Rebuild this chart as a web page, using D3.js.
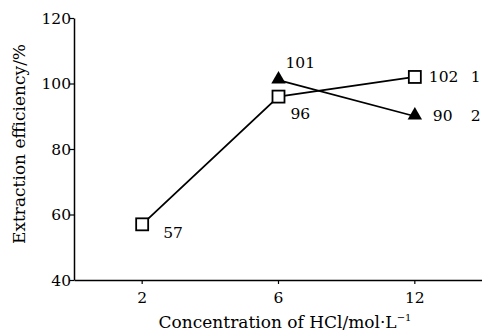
<!DOCTYPE html>
<html>
<head>
<meta charset="utf-8">
<script src="https://cdn.jsdelivr.net/npm/d3@7"></script>
<style>
    body { margin: 0; background: #fff; }
    svg text { font-family: "DejaVu Serif", "Liberation Serif", serif; fill: #000; }
</style>
</head>
<body>
<div id="chart"></div>
<script>
var categories = ["2", "6", "12"];
var yTicks = [40, 60, 80, 100, 120];
var series1 = [{x: "2", y: 57}, {x: "6", y: 96}, {x: "12", y: 102}];
var series2 = [{x: "6", y: 101}, {x: "12", y: 90}];
var seriesNames = ["1", "2"];

var width = 482, height = 333;
var margin = {left: 74, right: 0, top: 18, bottom: 53};
var fontSize = 15.5;
var titleSize = 17;

var svg = d3.select("#chart")
    .append("svg:svg")
    .attr("width", width)
    .attr("height", height);

var x = d3.scaleBand()
    .domain(categories)
    .range([margin.left, width + 1]);

var y = d3.scaleLinear()
    .domain([40, 120])
    .range([height - margin.bottom, margin.top]);

function cx(d) { return x(d.x) + x.bandwidth() / 2; }

// axes
var xAxis = svg.append("g")
    .attr("transform", "translate(0," + y(40) + ")")
    .call(d3.axisBottom(x).tickSize(4).tickSizeOuter(0));
var yAxis = svg.append("g")
    .attr("transform", "translate(" + margin.left + ",0)")
    .call(d3.axisLeft(y).tickValues(yTicks).tickSize(4).tickSizeOuter(0));

[xAxis, yAxis].forEach(function (g) {
    g.attr("font-family", null);
    g.select(".domain").attr("stroke", "#000").attr("stroke-width", 1.5);
    g.selectAll(".tick line").attr("stroke", "#000").attr("stroke-width", 1.2);
    g.selectAll(".tick text")
        .attr("font-size", fontSize)
        .attr("fill", "#000");
});
xAxis.selectAll(".tick text").attr("dy", "1.05em");
yAxis.selectAll(".tick text").attr("x", -3).attr("dy", "0.35em");

svg.append("text")
    .attr("transform", "translate(25,144) rotate(-90)")
    .attr("text-anchor", "middle")
    .attr("font-size", titleSize)
    .text("Extraction efficiency/%");

var xt = svg.append("text")
    .attr("x", 285)
    .attr("y", 328)
    .attr("text-anchor", "middle")
    .attr("font-size", titleSize)
    .text("Concentration of HCl/mol\u00b7L");
xt.append("tspan").attr("font-size", 10).attr("dy", -7).text("\u22121");

var line = d3.line().x(cx).y(function (d) { return y(d.y); });

svg.append("path").datum(series1)
    .attr("d", line).attr("fill", "none").attr("stroke", "#000").attr("stroke-width", 1.8);
svg.append("path").datum(series2)
    .attr("d", line).attr("fill", "none").attr("stroke", "#000").attr("stroke-width", 1.8);

svg.selectAll("rect.m1").data(series1).enter()
    .append("svg:rect")
    .attr("class", "m1")
    .attr("x", function (d) { return cx(d) - 6; })
    .attr("y", function (d) { return y(d.y) - 6; })
    .attr("width", 12).attr("height", 12)
    .attr("fill", "#fff").attr("stroke", "#000").attr("stroke-width", 1.8);

var tri = d3.symbol().type(d3.symbolTriangle).size(90);
svg.selectAll("path.m2").data(series2).enter()
    .append("path")
    .attr("class", "m2")
    .attr("d", tri)
    .attr("transform", function (d) { return "translate(" + cx(d) + "," + (y(d.y) - 1) + ")"; })
    .attr("fill", "#000");

// value labels
var labels1 = [{dx: 21, dy: 14}, {dx: 12, dy: 22}, {dx: 14, dy: 5}];
var labels2 = [{dx: 7, dy: -12}, {dx: 18, dy: 5}];
svg.selectAll("text.v1").data(series1).enter()
    .append("text").attr("class", "v1")
    .attr("x", function (d, i) { return cx(d) + labels1[i].dx; })
    .attr("y", function (d, i) { return y(d.y) + labels1[i].dy; })
    .attr("font-size", fontSize)
    .text(function (d) { return d.y; });
svg.selectAll("text.v2").data(series2).enter()
    .append("text").attr("class", "v2")
    .attr("x", function (d, i) { return cx(d) + labels2[i].dx; })
    .attr("y", function (d, i) { return y(d.y) + labels2[i].dy; })
    .attr("font-size", fontSize)
    .text(function (d) { return d.y; });

// series names at the right end
var lastPoints = [series1[series1.length - 1], series2[series2.length - 1]];
svg.selectAll("text.sn").data(lastPoints).enter()
    .append("text").attr("class", "sn")
    .attr("x", function (d) { return cx(d) + 56; })
    .attr("y", function (d) { return y(d.y) + 5; })
    .attr("font-size", fontSize)
    .text(function (d, i) { return seriesNames[i]; });
</script>
</body>
</html>
